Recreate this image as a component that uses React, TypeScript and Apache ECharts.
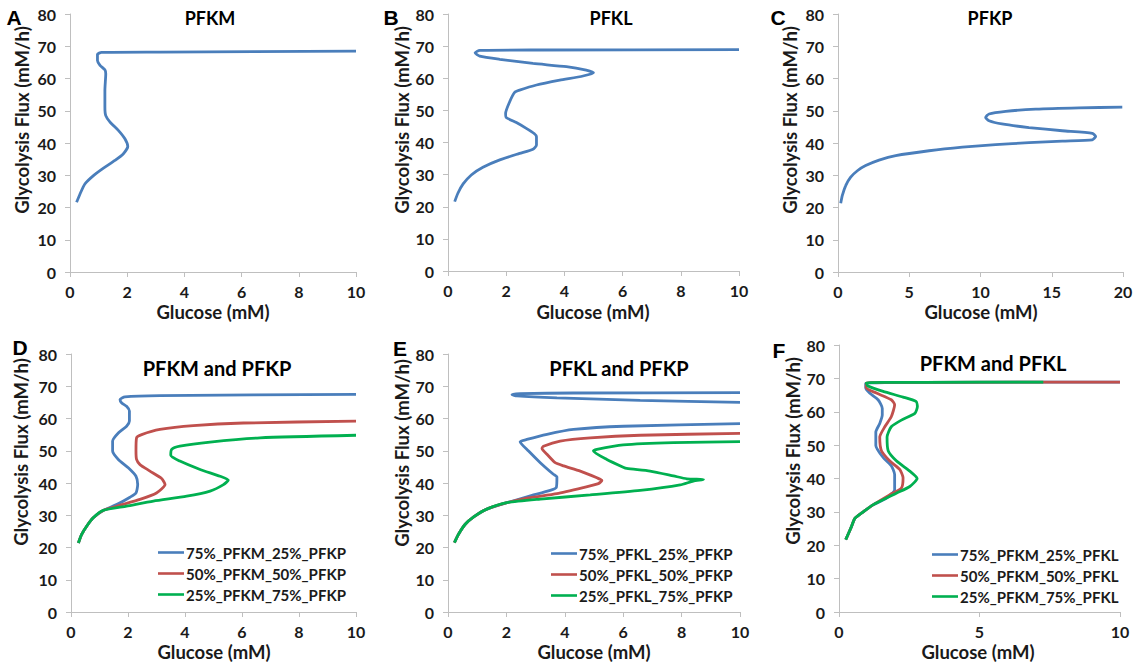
import React, { useEffect, useRef } from "react";
import * as echarts from "echarts";

// ---------- DATA: [glucose (mM), glycolysis flux (mM/h)] ----------
const pfkmOnly = [[0.23,21.6],[0.35,24.2],[0.52,27.3],[0.82,29.9],[1.17,32.2],[1.57,34.6],[1.86,36.6],[2.02,38.9],[1.92,41.3],[1.69,43.9],[1.4,46.5],[1.25,48.5],[1.22,51.1],[1.22,56.3],[1.25,61.5],[1.22,62.7],[1.05,64.1],[0.96,65.6],[0.96,67.5],[1.1,68.1],[3.15,68.2],[10,68.5]];
const pfklOnly = [[0.23,21.6],[0.34,24.2],[0.52,27.1],[0.8,29.9],[1.2,32.3],[1.78,34.6],[2.46,36.6],[2.92,37.9],[3.04,39.2],[3.04,41.8],[2.96,42.8],[2.69,44.4],[2.35,46.2],[2.0,47.8],[1.98,49.1],[2.12,52.7],[2.29,55.6],[2.46,56.3],[3.04,57.9],[3.84,59.4],[4.64,60.7],[5.0,61.7],[4.75,62.5],[4.07,63.6],[2.92,64.6],[1.78,65.9],[1.09,66.9],[0.93,67.9],[1.09,68.7],[3.15,68.8],[10,68.9]];
const pfkpOnly = [[0.19,21.3],[0.3,23.7],[0.54,26.8],[0.89,29.4],[1.36,31.4],[1.94,33],[2.88,34.7],[4.05,36.1],[6.39,37.6],[8.73,38.7],[11.06,39.5],[13.4,40.1],[15.74,40.6],[17.85,41.0],[18.08,42.0],[17.85,43.0],[15.74,43.8],[13.4,44.8],[11.5,45.9],[10.6,46.9],[10.36,47.9],[10.6,49.0],[11.77,49.8],[13.87,50.5],[16.9,50.9],[19.95,51.1]];

const mp75 = [[0.26,21.4],[0.37,24.0],[0.55,26.6],[0.78,29.2],[1.13,31.5],[1.6,33.3],[2.07,35.6],[2.28,36.9],[2.34,39.5],[2.28,42.1],[2.01,44.7],[1.66,47.3],[1.46,49.9],[1.46,53],[1.66,55.5],[1.95,57.6],[2.05,59.2],[2.05,62.3],[1.95,63.8],[1.78,64.8],[1.72,65.9],[1.89,66.7],[3.12,67.1],[10,67.5]];
const mp50 = [[0.26,21.4],[0.37,24.0],[0.55,26.6],[0.78,29.2],[1.13,31.5],[1.72,33.1],[2.42,34.9],[3.0,36.9],[3.3,39.5],[3.18,41.4],[2.77,43.7],[2.42,45.7],[2.3,47.3],[2.28,49.9],[2.3,54],[2.48,55],[3.12,56.6],[4.29,57.8],[6.05,58.6],[10,59.2]];
const mp25 = [[0.26,21.4],[0.37,24.0],[0.55,26.6],[0.78,29.2],[1.13,31.5],[1.95,32.8],[2.89,34.4],[4.06,35.9],[4.88,37.5],[5.35,39.5],[5.52,40.9],[5.23,42.1],[4.53,44.2],[3.82,46.8],[3.5,48.6],[3.53,50.4],[3.82,51.4],[4.88,52.7],[6.63,54],[10,54.8]];

const lp75Lower = [[0.22,21.5],[0.36,24.1],[0.59,27.2],[0.88,29.5],[1.33,31.9],[2.02,33.9],[2.82,36],[3.5,37.7],[3.71,38.6],[3.73,41.9],[3.61,42.7],[3.16,46.3],[2.76,49.9],[2.47,52.8],[2.7,53.5],[3.39,55.1],[4.3,56.6],[6.01,57.6],[10,58.4]];
const lp75Upper = [[10,65],[6.58,65.6],[3.73,66.4],[2.36,67],[2.19,67.4],[2.47,67.7],[4.3,67.9],[10,68]];
const lp50 = [[0.22,21.5],[0.36,24.1],[0.59,27.2],[0.88,29.5],[1.33,31.9],[2.02,33.9],[2.7,35.3],[3.73,36.7],[4.64,38.6],[5.15,39.8],[5.27,40.8],[5.1,41.6],[4.53,43.7],[3.96,45.3],[3.67,46.3],[3.39,48.9],[3.22,50.7],[3.27,51.4],[3.84,53],[4.87,54],[6.58,54.8],[10,55.4]];
const lp25 = [[0.22,21.5],[0.36,24.1],[0.59,27.2],[0.88,29.5],[1.33,31.9],[2.02,33.9],[3.16,35],[4.87,36.3],[6.58,37.7],[7.95,39.4],[8.4,40.6],[8.75,41.1],[8.18,41.3],[7.72,42.2],[6.92,43.7],[6.12,44.5],[6.0,44.9],[5.44,47.3],[4.98,49.9],[5.1,50.4],[6.0,51.8],[7.72,52.5],[10,52.8]];

const ml75 = [[0.24,21.7],[0.44,25.5],[0.56,28.0],[0.86,30.0],[1.21,32.1],[1.69,34.1],[1.98,36.6],[1.98,41.2],[1.86,43.8],[1.57,46.3],[1.31,49.9],[1.31,53.9],[1.45,56.5],[1.54,59],[1.54,61],[1.39,63.6],[1.09,65.6],[0.95,67.2],[0.95,68.5],[3,68.8],[10,68.9]];
const ml50 = [[0.24,21.7],[0.44,25.5],[0.56,28.0],[0.86,30.0],[1.21,32.1],[1.8,35.1],[2.22,37.1],[2.28,40.2],[2.16,42.7],[1.8,45.3],[1.51,48.3],[1.45,52.4],[1.63,55.5],[1.86,58.5],[1.98,62.1],[1.86,63.6],[1.33,65.6],[0.97,67.2],[0.97,68.7],[3,68.8],[10,68.9]];
const ml25 = [[0.24,21.7],[0.44,25.5],[0.56,28.0],[0.86,30.0],[1.21,32.1],[2.04,35.6],[2.52,37.6],[2.78,40],[2.52,42.2],[2.04,45.3],[1.75,48.3],[1.71,52.4],[1.86,55.5],[2.22,57.5],[2.7,59.5],[2.79,61.6],[2.74,63.1],[2.28,64.4],[1.57,66.1],[1.03,67.7],[0.97,68.7],[3,68.8],[7.27,68.9]];

const panelLetters = ["A", "B", "C", "D", "E", "F"];
const panelTitles = ["PFKM", "PFKL", "PFKP", "PFKM and PFKP", "PFKL and PFKP", "PFKM and PFKL"];
const legendD = ["75%_PFKM_25%_PFKP", "50%_PFKM_50%_PFKP", "25%_PFKM_75%_PFKP"];
const legendE = ["75%_PFKL_25%_PFKP", "50%_PFKL_50%_PFKP", "25%_PFKL_75%_PFKP"];
const legendF = ["75%_PFKM_25%_PFKL", "50%_PFKM_50%_PFKL", "25%_PFKM_75%_PFKL"];
const xMax = [10, 10, 20, 10, 10, 10];
const xStep = [2, 2, 5, 2, 2, 5];
const yTicks = { min: 0, max: 80, step: 10 };
const yAxisTitle = "Glycolysis Flux (mM/h)";
const xAxisTitle = "Glucose (mM)";

// ---------- LAYOUT ----------
const FONT = "Lato, 'Open Sans', sans-serif";
const BLUE = "#4a7ebb";
const RED = "#c0504d";
const GREEN = "#00b050";
const TXT = "#1a1a1a";
const AXIS = "#bfbfbf";

const grids = [
  { left: 70, top: 14, width: 286, height: 258 },
  { left: 448, top: 14, width: 291, height: 257 },
  { left: 838, top: 14, width: 285, height: 258 },
  { left: 71, top: 354, width: 285, height: 258 },
  { left: 448, top: 354, width: 292, height: 258 },
  { left: 839, top: 345, width: 281, height: 267 },
];
const letterPos = [[14, 17], [391, 17], [778, 17], [20, 347], [400, 348], [779, 350]];
const titlePos = [[210, 18], [611, 18], [990, 18], [217, 368], [619, 368], [993, 363]];
const yTitlePos = [[22, 120], [402, 120], [790, 120], [21, 452], [402, 453], [793, 451]];
const xTitlePos = [[213, 312], [593, 312], [981, 312], [214, 652], [594, 652], [978, 652]];
const legendPos = [[153, 540], [546, 541], [927, 542]];

export default function App() {
  const ref = useRef<HTMLDivElement>(null);
  useEffect(() => {
    if (!ref.current) return;
    const chart = echarts.init(ref.current, undefined, { renderer: "svg" });

    const lineSeries = (name: string, data: number[][], idx: number, color: string, z: number) => ({
      type: "line",
      name,
      data,
      xAxisIndex: idx,
      yAxisIndex: idx,
      symbol: "none",
      smooth: 0.2,
      z,
      lineStyle: { color, width: 2.8 },
      itemStyle: { color },
    });

    const series = [
      lineSeries("PFKM", pfkmOnly, 0, BLUE, 2),
      lineSeries("PFKL", pfklOnly, 1, BLUE, 2),
      lineSeries("PFKP", pfkpOnly, 2, BLUE, 2),
      lineSeries(legendD[0], mp75, 3, BLUE, 2),
      lineSeries(legendD[1], mp50, 3, RED, 3),
      lineSeries(legendD[2], mp25, 3, GREEN, 4),
      lineSeries(legendE[0], lp75Lower, 4, BLUE, 2),
      lineSeries(legendE[0], lp75Upper, 4, BLUE, 2),
      lineSeries(legendE[1], lp50, 4, RED, 3),
      lineSeries(legendE[2], lp25, 4, GREEN, 4),
      lineSeries(legendF[0], ml75, 5, BLUE, 2),
      lineSeries(legendF[1], ml50, 5, RED, 3),
      lineSeries(legendF[2], ml25, 5, GREEN, 4),
    ];

    const labelStyle = { fontSize: 16, fontWeight: "bold", color: TXT, fontFamily: FONT };

    const xAxes = grids.map((_, i) => ({
      type: "value",
      gridIndex: i,
      min: 0,
      max: xMax[i],
      interval: xStep[i],
      axisLine: { show: true, onZero: false, lineStyle: { color: AXIS, width: 1 } },
      axisTick: { show: true, length: 5, lineStyle: { color: AXIS } },
      splitLine: { show: false },
      axisLabel: { ...labelStyle, margin: 11 },
    }));
    const yAxes = grids.map((_, i) => ({
      type: "value",
      gridIndex: i,
      min: yTicks.min,
      max: yTicks.max,
      interval: yTicks.step,
      axisLine: { show: true, lineStyle: { color: AXIS, width: 1 } },
      axisTick: { show: true, length: 5, lineStyle: { color: AXIS } },
      splitLine: { show: false },
      axisLabel: { ...labelStyle, margin: 14 },
    }));

    const legends = [legendD, legendE, legendF].map((names, i) => ({
      data: names,
      orient: "vertical",
      left: legendPos[i][0],
      top: legendPos[i][1],
      itemWidth: 26,
      itemHeight: 14,
      itemGap: 6,
      icon: "path://M0,6 L26,6 L26,8.6 L0,8.6 Z",
      selectedMode: false,
      textStyle: { fontSize: 15, fontWeight: "bold", color: TXT, fontFamily: FONT, padding: [0, 0, 0, -3] },
    }));

    const graphics: any[] = [];
    for (let i = 0; i < 6; i++) {
      graphics.push({
        type: "text",
        x: letterPos[i][0],
        y: letterPos[i][1],
        style: {
          text: panelLetters[i],
          fontSize: 21,
          fontWeight: "bold",
          fontFamily: "'Liberation Sans', Arial, sans-serif",
          fill: "#000",
          align: "center",
          verticalAlign: "middle",
        },
      });
      graphics.push({
        type: "text",
        x: titlePos[i][0],
        y: titlePos[i][1],
        style: {
          text: panelTitles[i],
          fontSize: i < 3 ? 18 : 20,
          fontWeight: "bold",
          fontFamily: FONT,
          fill: "#000",
          align: "center",
          verticalAlign: "middle",
        },
      });
      graphics.push({
        type: "text",
        x: yTitlePos[i][0],
        y: yTitlePos[i][1],
        rotation: Math.PI / 2,
        style: {
          text: yAxisTitle,
          fontSize: 18.5,
          fontWeight: "bold",
          fontFamily: FONT,
          fill: TXT,
          align: "center",
          verticalAlign: "middle",
        },
      });
      graphics.push({
        type: "text",
        x: xTitlePos[i][0],
        y: xTitlePos[i][1],
        style: {
          text: xAxisTitle,
          fontSize: 18.5,
          fontWeight: "bold",
          fontFamily: FONT,
          fill: TXT,
          align: "center",
          verticalAlign: "middle",
        },
      });
    }

    chart.setOption({
      animation: false,
      backgroundColor: "#ffffff",
      textStyle: { fontFamily: FONT },
      grid: grids.map((g) => ({ ...g, containLabel: false })),
      xAxis: xAxes,
      yAxis: yAxes,
      legend: legends,
      series,
      graphic: graphics,
    });
    return () => chart.dispose();
  }, []);

  return (
    <div
      ref={ref}
      style={{ position: "absolute", left: 0, top: 0, width: 1142, height: 665, background: "#fff" }}
    />
  );
}
